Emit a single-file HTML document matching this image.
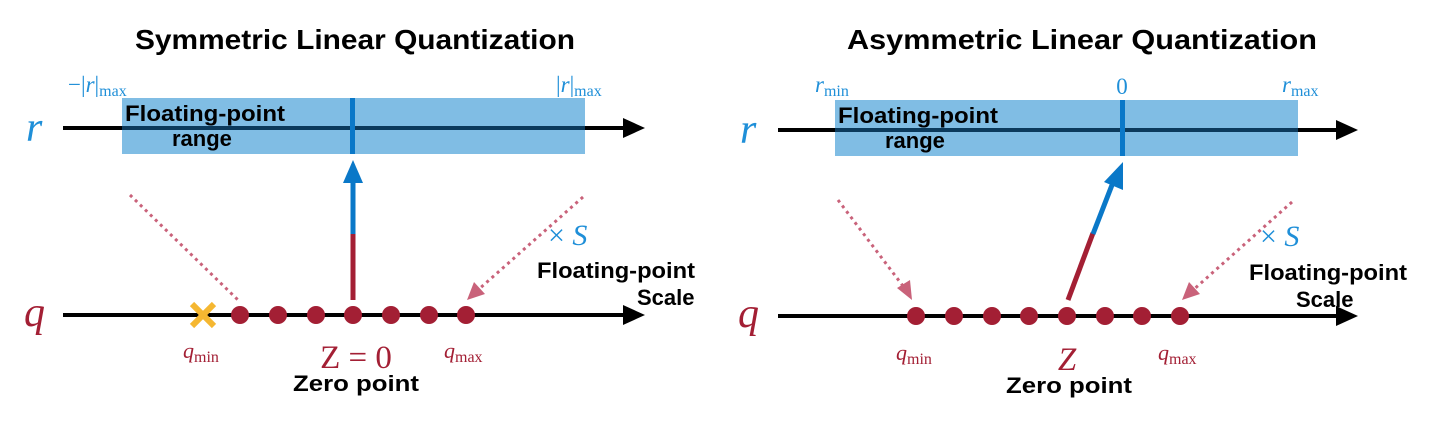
<!DOCTYPE html>
<html><head><style>
body{margin:0;background:#fff;}
svg text{font-family:"Liberation Sans",sans-serif;}
.t{font-weight:bold;font-size:28px;text-anchor:middle;}
.b{font-weight:bold;font-size:22px;}
.m{font-family:"Liberation Serif",serif;font-style:italic;}
.s{font-family:"Liberation Serif",serif;}
</style></head><body>
<svg width="1447" height="421" viewBox="0 0 1447 421" xmlns="http://www.w3.org/2000/svg">
<!-- LEFT -->
<text class="t" x="355" y="49" textLength="440" lengthAdjust="spacingAndGlyphs">Symmetric Linear Quantization</text>
<rect x="122" y="98" width="463" height="56" fill="#80bde4"/>
<line x1="63" y1="128" x2="625" y2="128" stroke="#000" stroke-width="4"/>
<polygon points="623,118 645,128 623,138" fill="#000"/>
<line x1="122" y1="128" x2="585" y2="128" stroke="#0b3a5c" stroke-width="4"/>
<rect x="350" y="98" width="5" height="56" fill="#0a78c8"/>
<text class="b" x="125" y="121" textLength="160" lengthAdjust="spacingAndGlyphs">Floating-point</text>
<text class="b" x="172" y="146">range</text>
<text class="m" x="26" y="141" font-size="42" fill="#1f8fd8">r</text>
<text x="68" y="92" font-size="23" fill="#1f8fd8" class="s">−|<tspan class="m">r</tspan>|<tspan font-size="16" dy="4">max</tspan></text>
<text x="556" y="92" font-size="23" fill="#1f8fd8" class="s">|<tspan class="m">r</tspan>|<tspan font-size="16" dy="4">max</tspan></text>
<line x1="63" y1="315" x2="625" y2="315" stroke="#000" stroke-width="4"/>
<polygon points="623,305 645,315 623,325" fill="#000"/>
<text class="m" x="24" y="326" font-size="42" fill="#a31f34">q</text>
<line x1="192" y1="304" x2="214" y2="326" stroke="#f5b731" stroke-width="6"/>
<line x1="214" y1="304" x2="192" y2="326" stroke="#f5b731" stroke-width="6"/>
<g fill="#a31f34">
<circle cx="240" cy="315" r="9"/><circle cx="278" cy="315" r="9"/><circle cx="316" cy="315" r="9"/><circle cx="353" cy="315" r="9"/><circle cx="391" cy="315" r="9"/><circle cx="429" cy="315" r="9"/><circle cx="466" cy="315" r="9"/>
</g>
<line x1="353" y1="300" x2="353" y2="233" stroke="#a31f34" stroke-width="5"/>
<line x1="353" y1="234" x2="353" y2="180" stroke="#0a78c8" stroke-width="5"/>
<polygon points="343,183 353,160 363,183" fill="#0a78c8"/>
<line x1="130" y1="195" x2="238" y2="300" stroke="#c9627a" stroke-width="3" stroke-dasharray="3,4"/>
<line x1="583" y1="197" x2="478" y2="290" stroke="#c9627a" stroke-width="3" stroke-dasharray="3,4"/>
<polygon points="467,300 474,282 485,294" fill="#c9627a"/>
<text x="548" y="245" font-size="30" fill="#1f8fd8" class="s">× <tspan class="m">S</tspan></text>
<text class="b" x="537" y="278" textLength="158" lengthAdjust="spacingAndGlyphs">Floating-point</text>
<text class="b" x="637" y="305">Scale</text>
<text x="183" y="358" font-size="22" fill="#a31f34" class="s"><tspan class="m">q</tspan><tspan font-size="16" dy="4">min</tspan></text>
<text x="444" y="358" font-size="22" fill="#a31f34" class="s"><tspan class="m">q</tspan><tspan font-size="16" dy="4">max</tspan></text>
<text x="356" y="368" font-size="33" fill="#a31f34" class="s" text-anchor="middle">Z = 0</text>
<text class="b" x="356" y="391" text-anchor="middle" textLength="126" lengthAdjust="spacingAndGlyphs">Zero point</text>
<!-- RIGHT -->
<text class="t" x="1082" y="49" textLength="470" lengthAdjust="spacingAndGlyphs">Asymmetric Linear Quantization</text>
<rect x="835" y="100" width="463" height="56" fill="#80bde4"/>
<line x1="778" y1="130" x2="1338" y2="130" stroke="#000" stroke-width="4"/>
<polygon points="1336,120 1358,130 1336,140" fill="#000"/>
<line x1="835" y1="130" x2="1298" y2="130" stroke="#0b3a5c" stroke-width="4"/>
<rect x="1120" y="100" width="5" height="56" fill="#0a78c8"/>
<text class="b" x="838" y="123" textLength="160" lengthAdjust="spacingAndGlyphs">Floating-point</text>
<text class="b" x="885" y="148">range</text>
<text class="m" x="740" y="143" font-size="42" fill="#1f8fd8">r</text>
<text x="815" y="92" font-size="23" fill="#1f8fd8" class="s"><tspan class="m">r</tspan><tspan font-size="16" dy="4">min</tspan></text>
<text x="1122" y="94" font-size="23" fill="#1f8fd8" class="s" text-anchor="middle">0</text>
<text x="1282" y="92" font-size="23" fill="#1f8fd8" class="s"><tspan class="m">r</tspan><tspan font-size="16" dy="4">max</tspan></text>
<line x1="778" y1="316" x2="1338" y2="316" stroke="#000" stroke-width="4"/>
<polygon points="1336,306 1358,316 1336,326" fill="#000"/>
<text class="m" x="738" y="327" font-size="42" fill="#a31f34">q</text>
<g fill="#a31f34">
<circle cx="916" cy="316" r="9"/><circle cx="954" cy="316" r="9"/><circle cx="992" cy="316" r="9"/><circle cx="1029" cy="316" r="9"/><circle cx="1067" cy="316" r="9"/><circle cx="1105" cy="316" r="9"/><circle cx="1142" cy="316" r="9"/><circle cx="1180" cy="316" r="9"/>
</g>
<line x1="1068" y1="300" x2="1093" y2="233" stroke="#a31f34" stroke-width="5"/>
<line x1="1093" y1="234" x2="1112" y2="185" stroke="#0a78c8" stroke-width="5"/>
<polygon points="1104,182 1123,162 1123,190" fill="#0a78c8"/>
<line x1="838" y1="200" x2="906" y2="290" stroke="#c9627a" stroke-width="3" stroke-dasharray="3,4"/>
<polygon points="912,300 897,288 910,280" fill="#c9627a"/>
<line x1="1292" y1="202" x2="1192" y2="291" stroke="#c9627a" stroke-width="3" stroke-dasharray="3,4"/>
<polygon points="1182,300 1189,282 1200,294" fill="#c9627a"/>
<text x="1260" y="246" font-size="30" fill="#1f8fd8" class="s">× <tspan class="m">S</tspan></text>
<text class="b" x="1249" y="280" textLength="158" lengthAdjust="spacingAndGlyphs">Floating-point</text>
<text class="b" x="1296" y="307">Scale</text>
<text x="896" y="360" font-size="22" fill="#a31f34" class="s"><tspan class="m">q</tspan><tspan font-size="16" dy="4">min</tspan></text>
<text x="1158" y="360" font-size="22" fill="#a31f34" class="s"><tspan class="m">q</tspan><tspan font-size="16" dy="4">max</tspan></text>
<text x="1067" y="370" font-size="33" fill="#a31f34" class="m" text-anchor="middle">Z</text>
<text class="b" x="1069" y="393" text-anchor="middle" textLength="126" lengthAdjust="spacingAndGlyphs">Zero point</text>
</svg>
</body></html>
